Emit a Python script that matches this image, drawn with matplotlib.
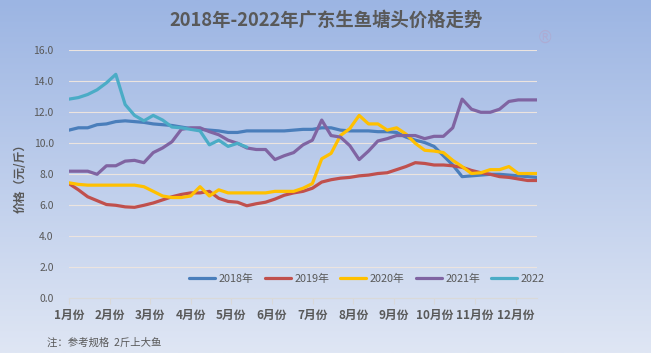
import numpy as np
import matplotlib
matplotlib.use("Agg")
import matplotlib.pyplot as plt
from matplotlib.colors import LinearSegmentedColormap

plt.rcParams['font.family'] = ['Noto Sans CJK SC', 'DejaVu Sans']

months = ["1月份", "2月份", "3月份", "4月份", "5月份", "6月份",
          "7月份", "8月份", "9月份", "10月份", "11月份", "12月份"]
yticks = [0, 2, 4, 6, 8, 10, 12, 14, 16]
series_names = ["2018年", "2019年", "2020年", "2021年", "2022"]

s2018 = [10.85, 11.0, 11.0, 11.2, 11.25, 11.4, 11.45, 11.4, 11.35, 11.25,
         11.2, 11.15, 11.05, 10.95, 10.9, 10.85, 10.8, 10.7, 10.7, 10.8,
         10.8, 10.8, 10.8, 10.8, 10.85, 10.9, 10.9, 11.0, 11.0, 10.85,
         10.8, 10.8, 10.8, 10.75, 10.75, 10.7, 10.4, 10.2, 10.05, 9.8,
         9.2, 8.6, 7.85, 7.9, 7.95, 8.0, 8.0, 7.95, 7.9, 7.85, 7.8]
s2019 = [7.4, 7.0, 6.55, 6.3, 6.05, 6.0, 5.9, 5.87, 6.0, 6.15,
         6.35, 6.55, 6.7, 6.8, 6.8, 6.9, 6.45, 6.25, 6.2, 5.97,
         6.1, 6.2, 6.4, 6.65, 6.8, 6.9, 7.1, 7.5, 7.65, 7.75,
         7.8, 7.9, 7.95, 8.05, 8.1, 8.3, 8.5, 8.75, 8.7, 8.6,
         8.6, 8.55, 8.45, 8.25, 8.1, 8.0, 7.85, 7.8, 7.7, 7.6, 7.6]
s2020 = [7.45, 7.35, 7.3, 7.3, 7.3, 7.3, 7.3, 7.3, 7.2, 6.9,
         6.6, 6.5, 6.5, 6.6, 7.2, 6.6, 7.0, 6.8, 6.8, 6.8,
         6.8, 6.8, 6.9, 6.9, 6.9, 7.1, 7.4, 9.0, 9.35, 10.5,
         10.95, 11.8, 11.25, 11.25, 10.85, 11.0, 10.6, 10.0, 9.55, 9.5,
         9.4, 8.9, 8.5, 8.05, 8.1, 8.3, 8.3, 8.5, 8.05, 8.05, 8.05]
s2021 = [8.2, 8.2, 8.2, 8.0, 8.55, 8.55, 8.85, 8.9, 8.75, 9.4,
         9.7, 10.1, 10.9, 11.0, 11.0, 10.75, 10.55, 10.2, 10.0, 9.7,
         9.6, 9.6, 8.95, 9.2, 9.4, 9.9, 10.2, 11.5, 10.5, 10.4,
         9.85, 8.95, 9.5, 10.15, 10.3, 10.5, 10.5, 10.5, 10.3, 10.45,
         10.45, 11.0, 12.85, 12.2, 12.0, 12.0, 12.2, 12.7, 12.8, 12.8, 12.8]
s2022 = [12.85, 12.95, 13.15, 13.45, 13.9, 14.45, 12.5, 11.8, 11.45, 11.8,
         11.5, 11.05, 11.0, 10.9, 10.8, 9.9, 10.2, 9.8, 10.0, 9.75]

colors = ["#4A7EBB", "#C0504D", "#FFC000", "#8064A2", "#4BACC6"]
W, H = 651, 353
fig = plt.figure(figsize=(W / 100, H / 100), dpi=100)

# background gradient
bg = fig.add_axes([0, 0, 1, 1], zorder=-10)
cmap = LinearSegmentedColormap.from_list("bg", ["#9CB5E3", "#DFE6F4"])
bg.imshow(np.linspace(0, 1, 256).reshape(-1, 1), aspect="auto", cmap=cmap,
          extent=[0, 1, 0, 1])
bg.axis("off")

left, right, y0px, y16px = 69, 537, 298.3, 50.3
ax = fig.add_axes([left / W, (H - y0px) / H, (right - left) / W, (y0px - y16px) / H])
ax.set_facecolor("none")

all_series = [s2018, s2019, s2020, s2021, s2022]
for name, vals, c in zip(series_names, all_series, colors):
    ax.plot(np.arange(len(vals)), vals, color=c, lw=2.3, label=name,
            solid_capstyle="round", solid_joinstyle="round")

n = len(s2018)
ax.set_xlim(0, n - 1)
ax.set_ylim(0, 16)
step = 40.6 / ((right - left) / (n - 1))
ax.set_xticks([k * step for k in range(12)])
ax.set_xticklabels(months, fontsize=8.5, fontweight="bold", color="#595959")
ax.set_yticks(yticks)
ax.set_yticklabels([f"{v:.1f}" for v in yticks], fontsize=7.5, color="#595959")
ax.tick_params(axis="y", length=0, pad=11)
ax.tick_params(axis="x", length=4, pad=4, color="#D9D9D9", width=0.8)
ax.grid(axis="y", color="#ECE4DF", lw=0.8)
ax.set_axisbelow(True)
for s in ["left", "right", "top"]:
    ax.spines[s].set_visible(False)
ax.spines["bottom"].set_color("#D9D9D9")
ax.spines["bottom"].set_linewidth(0.8)

fig.text(326 / W, 1 - 20 / H, "2018年-2022年广东生鱼塘头价格走势", ha="center",
         va="center", fontsize=13.2, fontweight="bold", color="#595959")
fig.text(20 / W, 1 - 175 / H, "价格（元/斤）", rotation=90, ha="center",
         va="center", fontsize=8.5, fontweight="bold", color="#595959")
fig.text(47 / W, 1 - 343 / H, "注：参考规格  2斤上大鱼", ha="left", va="center",
         fontsize=7.5, color="#595959")
fig.text(545 / W, 1 - 38 / H, "®", ha="center", va="center", fontsize=12,
         family="DejaVu Sans", color="#AFA9D0", alpha=0.8)

leg = ax.legend(loc="center", bbox_to_anchor=(367 / W, 1 - 279 / H),
                bbox_transform=fig.transFigure, ncol=5, frameon=False,
                fontsize=7.8, handlelength=2.4, handletextpad=0.35,
                columnspacing=1.0, borderpad=0, borderaxespad=0)
for t in leg.get_texts():
    t.set_color("#595959")

fig.savefig("out.png", dpi=100)
